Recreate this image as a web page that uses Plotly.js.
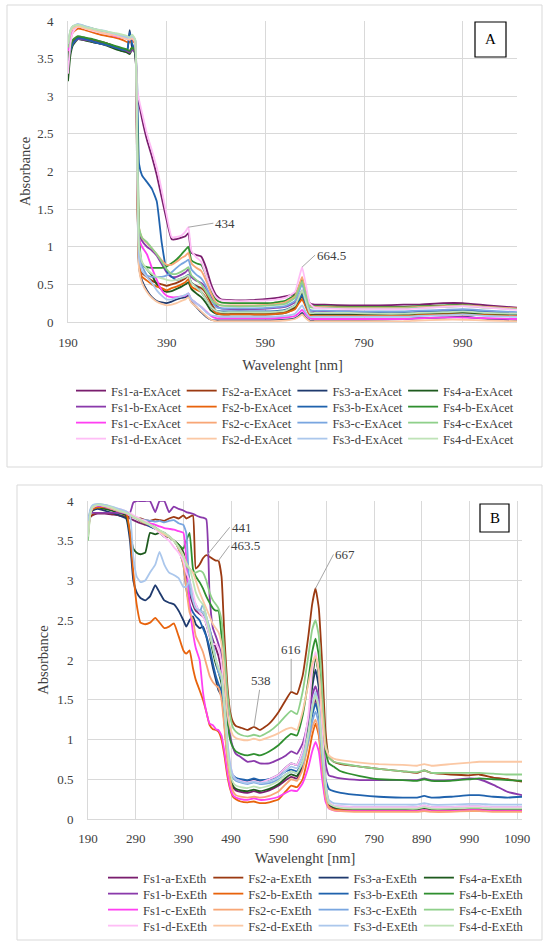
<!DOCTYPE html>
<html>
<head>
<meta charset="utf-8">
<script src="https://cdn.plot.ly/plotly-3.0.1.min.js"></script>
<style>html,body{margin:0;padding:0;background:#fff}#chart{width:550px;height:948px}</style>
</head>
<body>
<div id="chart"></div>
<script>
// ---------- Panel A (ExAcet) ----------
const wlA = [190,195,200,210,225,240,255,270,285,300,
  310,315,320,326,330,334,340,350,360,370,
  380,390,400,410,420,428,434,440,450,460,
  470,480,490,500,520,560,600,630,650,658,
  664.5,672,680,690,710,760,820,870,900,950,
  990,1040,1100];

const acet_fs1a = [3.55,3.65,3.72,3.78,3.76,3.74,3.72,3.7,3.66,3.63, 3.6,3.6,3.62,3.6,3.05,2.9,2.7,2.42,2.2,1.95, 1.65,1.35,1.1,1.1,1.12,1.14,1.18,0.92,0.89,0.87, 0.72,0.5,0.36,0.3,0.29,0.29,0.31,0.34,0.38,0.45, 0.55,0.4,0.25,0.23,0.23,0.22,0.22,0.23,0.23,0.25, 0.25,0.22,0.19];
const acet_fs2a = [3.5,3.65,3.72,3.78,3.77,3.75,3.73,3.7,3.66,3.63, 3.6,3.6,3.65,3.6,2.0,0.8,0.65,0.6,0.55,0.52, 0.5,0.48,0.5,0.52,0.55,0.58,0.62,0.52,0.48,0.45, 0.38,0.25,0.15,0.12,0.12,0.12,0.12,0.14,0.2,0.28, 0.34,0.22,0.11,0.1,0.1,0.1,0.09,0.09,0.1,0.11, 0.12,0.1,0.09];
const acet_fs3a = [3.45,3.6,3.7,3.77,3.75,3.72,3.7,3.68,3.64,3.6, 3.6,3.88,3.65,3.6,1.9,0.72,0.55,0.42,0.33,0.28, 0.26,0.25,0.27,0.3,0.32,0.33,0.35,0.27,0.2,0.13, 0.07,0.03,0.02,0.02,0.02,0.02,0.02,0.03,0.05,0.08, 0.12,0.06,0.02,0.02,0.02,0.02,0.03,0.04,0.05,0.06, 0.07,0.04,0.02];
const acet_fs4a = [3.2,3.55,3.68,3.76,3.74,3.72,3.7,3.67,3.63,3.6, 3.58,3.56,3.62,3.58,2.3,0.95,0.78,0.7,0.62,0.5, 0.43,0.4,0.41,0.44,0.47,0.5,0.53,0.44,0.38,0.33, 0.25,0.15,0.11,0.1,0.1,0.1,0.1,0.12,0.18,0.27, 0.38,0.22,0.1,0.09,0.09,0.09,0.09,0.09,0.1,0.11, 0.12,0.1,0.09];
const acet_fs1b = [3.5,3.62,3.7,3.76,3.75,3.73,3.7,3.68,3.65,3.62, 3.6,3.58,3.62,3.58,2.4,1.2,1.08,1.0,0.95,0.88, 0.77,0.66,0.6,0.6,0.63,0.66,0.7,0.6,0.55,0.52, 0.45,0.33,0.22,0.18,0.17,0.17,0.18,0.2,0.26,0.34, 0.42,0.3,0.16,0.14,0.14,0.14,0.13,0.13,0.14,0.15, 0.16,0.14,0.12];
const acet_fs2b = [3.6,3.75,3.85,3.9,3.88,3.85,3.82,3.8,3.78,3.75, 3.72,3.72,3.75,3.7,2.0,0.75,0.6,0.55,0.5,0.47, 0.45,0.42,0.45,0.47,0.5,0.53,0.57,0.47,0.43,0.4, 0.32,0.2,0.12,0.1,0.1,0.1,0.1,0.12,0.17,0.25, 0.3,0.2,0.09,0.08,0.08,0.08,0.08,0.08,0.09,0.1, 0.1,0.09,0.08];
const acet_fs3b = [3.5,3.62,3.7,3.77,3.76,3.73,3.7,3.68,3.65,3.62, 3.62,3.85,3.7,3.6,3.2,2.1,1.95,1.86,1.77,1.6, 1.05,0.68,0.6,0.56,0.58,0.6,0.63,0.52,0.47,0.4, 0.3,0.2,0.15,0.14,0.14,0.14,0.14,0.16,0.22,0.3, 0.36,0.24,0.13,0.12,0.12,0.12,0.12,0.12,0.13,0.14, 0.15,0.13,0.11];
const acet_fs4b = [3.5,3.65,3.75,3.8,3.78,3.76,3.73,3.7,3.67,3.64, 3.62,3.6,3.65,3.6,2.8,1.2,0.75,0.73,0.72,0.72, 0.72,0.74,0.78,0.83,0.9,0.96,1.0,0.82,0.78,0.76, 0.62,0.42,0.3,0.26,0.25,0.25,0.25,0.28,0.36,0.47, 0.57,0.38,0.22,0.21,0.21,0.2,0.2,0.2,0.21,0.22, 0.23,0.2,0.17];
const acet_fs1c = [3.6,3.8,3.9,3.93,3.9,3.88,3.85,3.83,3.8,3.78, 3.76,3.75,3.77,3.72,2.2,1.1,1.0,0.9,0.72,0.56, 0.42,0.35,0.33,0.33,0.34,0.35,0.38,0.3,0.25,0.2, 0.14,0.08,0.05,0.05,0.05,0.05,0.05,0.06,0.08,0.12, 0.16,0.1,0.05,0.04,0.04,0.04,0.04,0.04,0.05,0.06, 0.06,0.05,0.04];
const acet_fs2c = [3.65,3.85,3.92,3.95,3.92,3.9,3.87,3.85,3.83,3.8, 3.78,3.77,3.8,3.75,2.6,1.25,1.12,1.05,0.98,0.9, 0.82,0.76,0.76,0.8,0.85,0.88,0.92,0.78,0.72,0.68, 0.55,0.38,0.26,0.22,0.22,0.22,0.23,0.26,0.34,0.48, 0.6,0.4,0.21,0.2,0.2,0.19,0.19,0.19,0.2,0.21, 0.22,0.2,0.18];
const acet_fs3c = [3.65,3.85,3.92,3.95,3.92,3.9,3.87,3.85,3.83,3.8, 3.78,3.77,3.8,3.75,2.5,1.0,0.75,0.62,0.6,0.6, 0.6,0.62,0.66,0.72,0.77,0.8,0.83,0.7,0.63,0.58, 0.47,0.3,0.2,0.18,0.18,0.18,0.19,0.21,0.28,0.4, 0.5,0.33,0.16,0.15,0.15,0.14,0.14,0.14,0.15,0.16, 0.17,0.15,0.13];
const acet_fs4c = [3.65,3.87,3.93,3.95,3.93,3.9,3.87,3.85,3.82,3.8, 3.78,3.77,3.8,3.75,2.7,1.25,1.12,1.06,0.98,0.9, 0.8,0.7,0.64,0.64,0.67,0.7,0.73,0.62,0.56,0.5, 0.4,0.3,0.24,0.22,0.21,0.21,0.22,0.24,0.32,0.44, 0.54,0.36,0.2,0.19,0.19,0.18,0.18,0.18,0.19,0.2, 0.21,0.19,0.17];
const acet_fs1d = [3.3,3.7,3.85,3.93,3.9,3.87,3.85,3.83,3.82,3.8, 3.78,3.77,3.8,3.75,3.1,2.95,2.78,2.5,2.28,2.05, 1.75,1.42,1.13,1.13,1.15,1.2,1.26,0.95,0.86,0.8, 0.62,0.45,0.33,0.29,0.28,0.28,0.29,0.32,0.4,0.58, 0.73,0.5,0.25,0.19,0.18,0.17,0.17,0.17,0.18,0.2, 0.21,0.19,0.16];
const acet_fs2d = [3.7,3.85,3.9,3.93,3.9,3.88,3.85,3.83,3.81,3.78, 3.76,3.75,3.77,3.72,2.0,0.7,0.52,0.4,0.32,0.27, 0.24,0.22,0.23,0.25,0.28,0.3,0.33,0.26,0.2,0.14, 0.08,0.03,0.01,0.01,0.01,0.01,0.01,0.02,0.04,0.07, 0.1,0.05,0.01,0.01,0.01,0.01,0.01,0.01,0.02,0.03, 0.03,0.02,0.01];
const acet_fs3d = [3.7,3.88,3.93,3.96,3.93,3.9,3.88,3.86,3.83,3.8, 3.78,3.78,3.8,3.76,2.3,0.85,0.68,0.6,0.52,0.42, 0.35,0.3,0.3,0.32,0.34,0.36,0.38,0.3,0.25,0.2, 0.13,0.09,0.08,0.07,0.07,0.07,0.07,0.08,0.11,0.17, 0.22,0.13,0.07,0.07,0.07,0.07,0.07,0.07,0.08,0.09, 0.1,0.08,0.07];
const acet_fs4d = [3.7,3.88,3.93,3.95,3.92,3.9,3.88,3.86,3.84,3.82, 3.8,3.78,3.82,3.76,2.4,1.0,0.8,0.7,0.64,0.6, 0.58,0.56,0.55,0.56,0.58,0.6,0.62,0.52,0.46,0.4, 0.3,0.2,0.15,0.13,0.13,0.13,0.13,0.15,0.22,0.33, 0.42,0.27,0.12,0.12,0.12,0.12,0.11,0.11,0.12,0.13, 0.14,0.12,0.11];

// ---------- Panel B (ExEth) ----------
const wlB = [190,195,200,210,225,240,255,270,278,285,
  292,300,310,320,331,340,350,360,370,380,
  390,396,403,410,416,424,431,438,445,452,
  458,463.5,470,476,482,488,494,500,510,525,
  538,550,570,590,605,616,628,640,652,660,
  667,674,681,688,695,705,720,760,800,850,
  880,895,910,950,990,1010,1040,1070,1100];

const eth_fs1a = [3.7,3.8,3.82,3.84,3.84,3.83,3.82,3.8,3.78,3.76, 3.74,3.72,3.7,3.68,3.65,3.62,3.6,3.55,3.5,3.45, 3.35,3.1,2.85,2.7,2.62,2.58,2.55,2.5,2.38,2.25, 2.15,2.05,1.85,1.35,0.85,0.55,0.4,0.36,0.34,0.33, 0.35,0.33,0.36,0.42,0.49,0.53,0.51,0.66,1.0,1.35, 1.5,1.35,0.82,0.38,0.18,0.14,0.13,0.12,0.12,0.12, 0.12,0.14,0.12,0.12,0.13,0.13,0.12,0.12,0.12];
const eth_fs2a = [3.75,3.8,3.83,3.85,3.85,3.84,3.82,3.8,3.8,3.8, 3.78,3.78,3.76,3.75,3.77,3.76,3.75,3.78,3.8,3.78, 3.82,3.78,3.8,3.82,3.15,3.2,3.28,3.32,3.3,3.27, 3.25,3.25,3.05,2.3,1.7,1.35,1.22,1.17,1.15,1.12, 1.16,1.12,1.2,1.35,1.5,1.6,1.57,1.8,2.3,2.7, 2.9,2.65,1.95,1.1,0.78,0.72,0.69,0.66,0.63,0.6, 0.58,0.61,0.58,0.56,0.55,0.56,0.52,0.5,0.47];
const eth_fs3a = [3.7,3.85,3.88,3.9,3.88,3.85,3.82,3.78,3.5,3.0, 2.85,2.78,2.75,2.8,2.94,2.85,2.75,2.72,2.7,2.62, 2.5,2.42,2.5,2.55,2.45,2.4,2.42,2.3,2.1,1.9, 1.75,1.62,1.55,1.2,0.8,0.6,0.52,0.5,0.49,0.48, 0.5,0.48,0.5,0.56,0.65,0.7,0.68,0.85,1.25,1.65, 1.88,1.65,1.0,0.45,0.2,0.15,0.13,0.12,0.12,0.12, 0.12,0.14,0.12,0.12,0.13,0.13,0.12,0.12,0.12];
const eth_fs4a = [3.7,3.85,3.9,3.92,3.9,3.88,3.85,3.82,3.6,3.4, 3.35,3.33,3.35,3.6,3.58,3.6,3.55,3.55,3.5,3.45, 3.35,3.2,3.0,2.75,2.65,2.62,2.6,2.45,2.3,2.1, 1.95,1.85,1.7,1.3,0.85,0.55,0.42,0.38,0.36,0.35, 0.37,0.35,0.38,0.44,0.52,0.56,0.54,0.7,1.15,1.75, 2.05,1.8,1.1,0.45,0.2,0.15,0.13,0.12,0.12,0.12, 0.12,0.14,0.12,0.12,0.13,0.13,0.12,0.12,0.12];
const eth_fs1b = [3.7,3.85,3.85,3.85,3.85,3.85,3.85,3.85,3.85,3.98, 4.0,4.0,4.0,4.0,3.86,4.0,4.0,3.86,3.93,3.9, 3.88,3.86,3.85,3.84,3.82,3.8,3.79,3.77,2.8,2.4, 2.3,2.2,2.05,1.8,1.4,1.05,0.9,0.82,0.78,0.72, 0.73,0.7,0.7,0.75,0.8,0.85,0.82,0.95,1.25,1.55, 1.67,1.5,1.1,0.7,0.55,0.53,0.51,0.49,0.49,0.49, 0.49,0.51,0.49,0.49,0.51,0.5,0.43,0.34,0.3];
const eth_fs2b = [3.6,3.85,3.9,3.92,3.92,3.9,3.88,3.85,3.6,3.1, 2.7,2.47,2.45,2.47,2.53,2.47,2.4,2.42,2.46,2.3, 2.12,2.08,2.12,1.9,1.75,1.62,1.5,1.35,1.18,1.13, 1.12,1.1,1.0,0.8,0.55,0.38,0.28,0.25,0.22,0.21, 0.22,0.2,0.21,0.25,0.35,0.42,0.4,0.5,0.8,1.05, 1.2,1.05,0.6,0.25,0.15,0.12,0.11,0.1,0.1,0.1, 0.1,0.11,0.1,0.1,0.11,0.11,0.1,0.1,0.1];
const eth_fs3b = [3.65,3.85,3.92,3.94,3.93,3.9,3.87,3.85,3.83,3.8, 3.78,3.75,3.72,3.68,3.65,3.62,3.58,3.55,3.5,3.4, 3.2,2.9,2.7,2.6,2.55,2.5,2.4,2.3,2.15,1.95, 1.8,1.7,1.6,1.3,0.9,0.65,0.55,0.52,0.5,0.49, 0.51,0.49,0.5,0.54,0.6,0.62,0.6,0.72,1.0,1.3, 1.45,1.3,0.85,0.5,0.38,0.35,0.33,0.3,0.28,0.27, 0.27,0.29,0.27,0.28,0.3,0.3,0.28,0.27,0.28];
const eth_fs4b = [3.7,3.88,3.93,3.95,3.94,3.9,3.87,3.85,3.83,3.8, 3.78,3.75,3.72,3.7,3.66,3.62,3.58,3.55,3.5,3.45, 3.4,3.5,3.6,3.15,3.05,2.98,2.9,2.8,2.72,2.65, 2.62,2.62,2.3,1.7,1.25,1.0,0.9,0.85,0.82,0.8, 0.82,0.8,0.85,0.93,1.02,1.07,1.05,1.3,1.75,2.1, 2.27,2.05,1.35,0.85,0.7,0.66,0.6,0.54,0.5,0.49, 0.48,0.5,0.48,0.48,0.5,0.51,0.5,0.49,0.48];
const eth_fs1c = [3.6,3.85,3.92,3.94,3.93,3.9,3.87,3.84,3.82,3.8, 3.78,3.76,3.74,3.72,3.7,3.68,3.66,3.65,3.64,3.62, 3.6,3.3,2.7,2.35,2.15,2.0,1.6,1.35,1.2,1.18, 1.13,1.12,1.05,0.85,0.6,0.4,0.3,0.27,0.25,0.24, 0.26,0.24,0.25,0.28,0.33,0.36,0.35,0.45,0.65,0.85, 0.97,0.85,0.5,0.22,0.13,0.11,0.1,0.1,0.1,0.1, 0.1,0.11,0.1,0.1,0.11,0.11,0.1,0.1,0.1];
const eth_fs2c = [3.55,3.85,3.92,3.95,3.94,3.9,3.87,3.85,3.83,3.8, 3.78,3.75,3.72,3.7,3.66,3.62,3.58,3.55,3.5,3.4, 3.2,2.9,2.6,2.5,2.3,2.2,2.1,1.95,1.8,1.72, 1.68,1.65,1.5,1.15,0.75,0.5,0.35,0.3,0.28,0.27, 0.28,0.27,0.29,0.35,0.44,0.5,0.48,0.62,0.95,1.15, 1.25,1.1,0.65,0.28,0.14,0.11,0.1,0.09,0.09,0.09, 0.09,0.1,0.09,0.09,0.1,0.1,0.09,0.09,0.09];
const eth_fs3c = [3.6,3.85,3.92,3.95,3.94,3.91,3.88,3.85,3.83,3.8, 3.78,3.77,3.76,3.75,3.74,3.75,3.73,3.75,3.76,3.72, 3.7,3.6,2.9,2.75,2.7,2.6,2.7,2.55,2.4,2.2, 2.0,1.85,1.75,1.4,0.95,0.65,0.52,0.48,0.46,0.44, 0.46,0.44,0.45,0.5,0.56,0.6,0.58,0.7,0.98,1.22, 1.35,1.2,0.78,0.38,0.2,0.17,0.16,0.15,0.15,0.15, 0.15,0.17,0.15,0.15,0.16,0.16,0.15,0.15,0.15];
const eth_fs4c = [3.5,3.85,3.94,3.96,3.95,3.92,3.88,3.85,3.83,3.8, 3.78,3.76,3.73,3.7,3.67,3.63,3.6,3.55,3.5,3.42, 3.3,3.18,3.15,3.1,3.1,3.12,3.1,3.0,2.85,2.75, 2.7,2.65,2.5,2.1,1.6,1.3,1.15,1.1,1.06,1.04, 1.06,1.04,1.1,1.2,1.3,1.36,1.32,1.6,2.05,2.38, 2.5,2.3,1.6,0.95,0.78,0.72,0.7,0.66,0.63,0.6, 0.59,0.61,0.58,0.58,0.58,0.58,0.57,0.56,0.56];
const eth_fs1d = [3.6,3.85,3.92,3.95,3.94,3.92,3.9,3.87,3.85,3.82, 3.8,3.77,3.75,3.7,3.65,3.6,3.55,3.5,3.42,3.35, 3.25,3.1,3.0,2.85,2.7,2.6,2.55,2.45,2.3,2.2, 2.2,2.15,1.95,1.5,1.0,0.7,0.55,0.5,0.48,0.46, 0.48,0.46,0.5,0.56,0.65,0.7,0.68,0.85,1.3,1.85, 2.1,1.85,1.1,0.48,0.22,0.17,0.16,0.15,0.15,0.15, 0.15,0.17,0.15,0.15,0.16,0.16,0.15,0.15,0.15];
const eth_fs2d = [3.6,3.85,3.92,3.95,3.94,3.91,3.88,3.85,3.83,3.8, 3.78,3.76,3.73,3.7,3.66,3.62,3.58,3.55,3.5,3.42, 3.32,3.22,3.15,3.1,3.0,2.85,2.75,2.65,2.55,2.45, 2.4,2.35,2.2,1.8,1.35,1.15,1.05,1.02,1.0,0.99, 1.01,0.99,1.03,1.08,1.13,1.15,1.12,1.35,1.7,1.95, 2.05,1.85,1.3,0.9,0.8,0.76,0.74,0.71,0.69,0.68, 0.67,0.69,0.67,0.69,0.71,0.72,0.72,0.72,0.72];
const eth_fs3d = [3.75,3.9,3.95,3.96,3.95,3.93,3.9,3.87,3.82,3.3, 3.05,2.98,3.0,3.1,3.2,3.36,3.2,3.1,3.07,3.03, 2.92,2.92,3.0,2.75,2.65,2.62,2.6,2.5,2.35,2.15, 2.0,1.9,1.8,1.45,1.0,0.7,0.55,0.5,0.47,0.45, 0.47,0.45,0.47,0.53,0.61,0.66,0.64,0.78,1.1,1.42, 1.6,1.42,0.9,0.45,0.24,0.2,0.19,0.18,0.18,0.18, 0.18,0.2,0.18,0.18,0.19,0.19,0.18,0.18,0.18];
const eth_fs4d = [3.55,3.85,3.93,3.95,3.94,3.92,3.88,3.85,3.83,3.8, 3.78,3.76,3.73,3.7,3.66,3.63,3.6,3.56,3.5,3.42, 3.3,3.2,3.15,3.0,2.85,2.75,2.7,2.55,2.35,2.15, 2.0,1.9,1.8,1.4,0.9,0.6,0.46,0.42,0.4,0.39, 0.41,0.39,0.42,0.48,0.56,0.6,0.58,0.72,1.05,1.38, 1.55,1.38,0.88,0.42,0.2,0.16,0.14,0.13,0.13,0.13, 0.13,0.15,0.13,0.13,0.14,0.14,0.13,0.13,0.13];

// series keys (legend / drawing order, row by row) and colours
const seriesKeys = ['1-a','2-a','3-a','4-a','1-b','2-b','3-b','4-b','1-c','2-c','3-c','4-c','1-d','2-d','3-d','4-d'];
const seriesColors = {
  '1-a':'#7a1e6e','1-b':'#8a3aab','1-c':'#ff40f2','1-d':'#ffbdf6',
  '2-a':'#9b3a12','2-b':'#e8630c','2-c':'#f8a676','2-d':'#fbc8a4',
  '3-a':'#1f3a6e','3-b':'#1f62ad','3-c':'#79a6e0','3-d':'#abc7ec',
  '4-a':'#1e5a1e','4-b':'#2f8f2f','4-c':'#8fd08a','4-d':'#bfe3b7'
};
const acetValues = {'1-a':acet_fs1a,'2-a':acet_fs2a,'3-a':acet_fs3a,'4-a':acet_fs4a,'1-b':acet_fs1b,'2-b':acet_fs2b,'3-b':acet_fs3b,'4-b':acet_fs4b,'1-c':acet_fs1c,'2-c':acet_fs2c,'3-c':acet_fs3c,'4-c':acet_fs4c,'1-d':acet_fs1d,'2-d':acet_fs2d,'3-d':acet_fs3d,'4-d':acet_fs4d};
const ethValues = {'1-a':eth_fs1a,'2-a':eth_fs2a,'3-a':eth_fs3a,'4-a':eth_fs4a,'1-b':eth_fs1b,'2-b':eth_fs2b,'3-b':eth_fs3b,'4-b':eth_fs4b,'1-c':eth_fs1c,'2-c':eth_fs2c,'3-c':eth_fs3c,'4-c':eth_fs4c,'1-d':eth_fs1d,'2-d':eth_fs2d,'3-d':eth_fs3d,'4-d':eth_fs4d};

const legendId = n => (n === 1 ? 'legend' : 'legend' + n);
const traces = [];
seriesKeys.forEach((k, i) => {
  traces.push({type:'scatter', mode:'lines', x:wlA, y:acetValues[k], name:'Fs'+k+'-ExAcet',
    xaxis:'x', yaxis:'y', legend:legendId(1 + Math.floor(i / 4)),
    line:{color:seriesColors[k], width:1.8, shape:'spline', smoothing:0.4}});
});
seriesKeys.forEach((k, i) => {
  traces.push({type:'scatter', mode:'lines', x:wlB, y:ethValues[k], name:'Fs'+k+'-ExEth',
    xaxis:'x2', yaxis:'y2', legend:legendId(5 + Math.floor(i / 4)),
    line:{color:seriesColors[k], width:1.8, shape:'spline', smoothing:0.4}});
});

const FONT = 'Liberation Serif, DejaVu Serif, Noto Serif, Times New Roman, Times, serif';
const TXT = '#404040';
const GRID = '#d9d9d9';
const ML = 50, PW = 500, H = 948;
const px = v => (v - ML) / PW;
const py = v => 1 - v / H;

const axX = {range:[190,1100], tick0:190, gridcolor:GRID, gridwidth:1, zeroline:false,
  showline:true, linecolor:GRID, ticks:'', ticklabelstandoff:8,
  tickfont:{family:FONT, size:13, color:TXT}, fixedrange:true};
const axY = {range:[0,4], tick0:0, dtick:0.5, gridcolor:GRID, gridwidth:1, zeroline:false,
  showline:true, linecolor:GRID, ticks:'', ticklabelstandoff:11,
  tickfont:{family:FONT, size:13, color:TXT}, fixedrange:true};

const peakLabel = (xref, yref, x, y, text, ax, ay, xanchor) => ({
  xref, yref, x, y, text, showarrow:true, arrowhead:0, arrowwidth:1, arrowcolor:'#a6a6a6',
  ax, ay, xanchor:xanchor||'left', yanchor:'middle', font:{family:FONT, size:13, color:TXT}, standoff:0
});

const legendBase = (x, top, ew) => ({orientation:'h', x:px(x), y:py(top), xanchor:'left', yanchor:'top',
  entrywidth:ew, itemwidth:30, bgcolor:'rgba(0,0,0,0)', borderwidth:0,
  font:{family:FONT, size:12.5, color:TXT}, traceorder:'normal'});

const layout = {
  width:550, height:948,
  margin:{l:ML, r:0, t:0, b:0},
  paper_bgcolor:'#ffffff', plot_bgcolor:'#ffffff',
  font:{family:FONT, color:TXT, size:13},
  showlegend:true,
  xaxis:Object.assign({}, axX, {domain:[px(68), px(517)], dtick:200, anchor:'y',
    title:{text:'Wavelenght [nm]', font:{family:FONT, size:14.5, color:TXT}, standoff:11}}),
  yaxis:Object.assign({}, axY, {domain:[py(322), py(21)], anchor:'x',
    title:{text:'Absorbance', font:{family:FONT, size:14.5, color:TXT}, standoff:3}}),
  xaxis2:Object.assign({}, axX, {domain:[px(88), px(522)], dtick:100, anchor:'y2', ticklabelstandoff:7,
    title:{text:'Wavelenght [nm]', font:{family:FONT, size:14.5, color:TXT}, standoff:8}}),
  yaxis2:Object.assign({}, axY, {domain:[py(819), py(501)], anchor:'x2',
    title:{text:'Absorbance', font:{family:FONT, size:14.5, color:TXT}, standoff:5}}),
  legend:  legendBase(71, 392 - 16, 65.7),
  legend2: legendBase(71, 408 - 16, 65.7),
  legend3: legendBase(71, 424 - 16, 65.7),
  legend4: legendBase(71, 440 - 16, 65.7),
  legend5: legendBase(103, 878 - 15, 60.3),
  legend6: legendBase(103, 894 - 15, 60.3),
  legend7: legendBase(103, 910 - 15, 60.3),
  legend8: legendBase(103, 926 - 15, 60.3),
  shapes:[
    {type:'rect', xref:'paper', yref:'paper', x0:px(7), x1:px(542), y0:py(467), y1:py(5),
      line:{color:GRID, width:1}, layer:'below'},
    {type:'rect', xref:'paper', yref:'paper', x0:px(17), x1:px(542), y0:py(940), y1:py(485),
      line:{color:GRID, width:1}, layer:'below'},
    {type:'rect', xref:'paper', yref:'paper', x0:px(475), x1:px(506), y0:py(57), y1:py(22),
      line:{color:'#000000', width:1.2}, fillcolor:'#ffffff'},
    {type:'rect', xref:'paper', yref:'paper', x0:px(480), x1:px(509), y0:py(532), y1:py(504),
      line:{color:'#000000', width:1.2}, fillcolor:'#ffffff'}
  ],
  annotations:[
    {xref:'paper', yref:'paper', x:px(490.5), y:py(39.5), text:'A', showarrow:false,
      font:{family:FONT, size:15, color:'#000000'}, xanchor:'center', yanchor:'middle'},
    {xref:'paper', yref:'paper', x:px(494.5), y:py(518), text:'B', showarrow:false,
      font:{family:FONT, size:15, color:'#000000'}, xanchor:'center', yanchor:'middle'},
    peakLabel('x','y',434,1.26,'434',25,-4),
    peakLabel('x','y',664.5,0.73,'664.5',13,-12),
    peakLabel('x2','y2',441,3.33,'441',22,-27),
    peakLabel('x2','y2',463.5,3.25,'463.5',11,-15),
    peakLabel('x2','y2',538,1.16,'538',7,-46,'center'),
    peakLabel('x2','y2',616,1.6,'616',0,-42,'center'),
    peakLabel('x2','y2',667,2.9,'667',18,-34)
  ]
};

Plotly.newPlot('chart', traces, layout, {displayModeBar:false, staticPlot:true});
</script>
</body>
</html>
